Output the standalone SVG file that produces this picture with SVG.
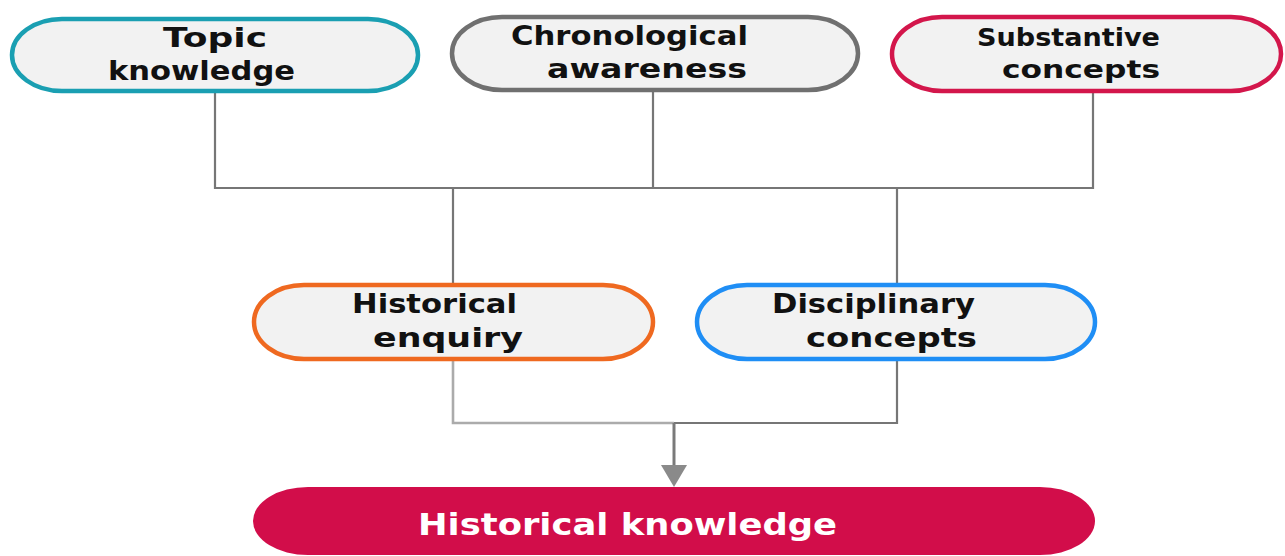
<svg xmlns="http://www.w3.org/2000/svg" width="1285" height="556" viewBox="0 0 1285 556">
<style>
.pill{fill:#f2f2f2;stroke-width:4.5}
.lbl{font-family:"DejaVu Sans","Liberation Sans",sans-serif;font-weight:bold;font-size:26px;fill:#111}
.big{font-family:"DejaVu Sans","Liberation Sans",sans-serif;font-weight:bold;font-size:31px;fill:#fff}
.conn{fill:none;stroke:#767676;stroke-width:2.2}
.light{stroke:#ababab;stroke-width:2.6}
</style>
<rect width="1285" height="556" fill="#fff"/>
<g id="connectors">
<path class="conn" d="M215,93 V188 H1093 V93"/>
<path class="conn" d="M653,92 V188"/>
<path class="conn" d="M453,188 V285"/>
<path class="conn" d="M897,188 V285"/>
<path class="conn light" d="M453,361 V423 H674"/>
<path class="conn" d="M674,423 H897 V361"/>
<line x1="674" y1="423" x2="674" y2="466" stroke="#7a7a7a" stroke-width="3"/>
<path d="M661,465 L687,465 L674,487 Z" fill="#8a8a8a"/>
</g>
<g id="topic">
<rect class="pill" x="12" y="19" width="406" height="72" rx="50" ry="36" stroke="#1a9fb2"/>
<text class="lbl" x="163" y="47" textLength="104" lengthAdjust="spacingAndGlyphs">Topic</text>
<text class="lbl" x="108" y="80" textLength="187" lengthAdjust="spacingAndGlyphs">knowledge</text>
</g>
<g id="chronological">
<rect class="pill" x="452" y="17" width="406" height="73" rx="50" ry="36.5" stroke="#707070"/>
<text class="lbl" x="511" y="45" textLength="237" lengthAdjust="spacingAndGlyphs">Chronological</text>
<text class="lbl" x="547" y="78" textLength="200" lengthAdjust="spacingAndGlyphs">awareness</text>
</g>
<g id="substantive">
<rect class="pill" x="892" y="17" width="389" height="74" rx="50" ry="37" stroke="#d3164b"/>
<text class="lbl" x="977" y="46" textLength="183" lengthAdjust="spacingAndGlyphs" style="font-size:25px">Substantive</text>
<text class="lbl" x="1002" y="78" textLength="158" lengthAdjust="spacingAndGlyphs" style="font-size:25px">concepts</text>
</g>
<g id="enquiry">
<rect class="pill" x="254" y="285" width="399" height="74" rx="50" ry="37" stroke="#ef6920"/>
<text class="lbl" x="352" y="313" textLength="165" lengthAdjust="spacingAndGlyphs">Historical</text>
<text class="lbl" x="373" y="347" textLength="150" lengthAdjust="spacingAndGlyphs">enquiry</text>
</g>
<g id="disciplinary">
<rect class="pill" x="697" y="285" width="398" height="74" rx="50" ry="37" stroke="#1f8ef5"/>
<text class="lbl" x="772" y="313" textLength="203" lengthAdjust="spacingAndGlyphs">Disciplinary</text>
<text class="lbl" x="806" y="347" textLength="171" lengthAdjust="spacingAndGlyphs">concepts</text>
</g>
<g id="knowledge">
<rect x="253" y="487" width="842" height="68" rx="55" ry="34" fill="#d20d4a"/>
<text class="big" x="418" y="535" textLength="419" lengthAdjust="spacingAndGlyphs">Historical knowledge</text>
</g>
</svg>
